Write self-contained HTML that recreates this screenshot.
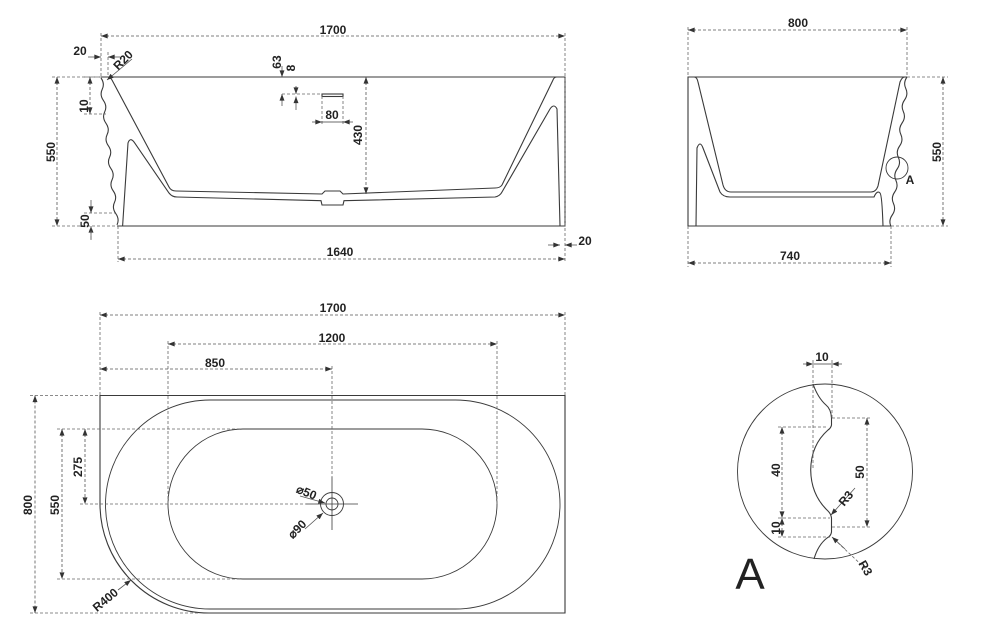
<!DOCTYPE html>
<html><head><meta charset="utf-8"><style>
html,body{margin:0;padding:0;background:#fff}
svg{display:block}
.s{fill:none;stroke:#3a3a3a;stroke-width:1.1}
.d{fill:none;stroke:#666;stroke-width:.8;stroke-dasharray:3 2}
.m{fill:none;stroke:#555;stroke-width:.8;stroke-dasharray:3 2;marker-start:url(#a);marker-end:url(#a)}
.e{fill:none;stroke:#555;stroke-width:.8;marker-end:url(#a)}
text{font-family:"Liberation Sans",sans-serif;font-weight:bold;font-size:12px;fill:#222;text-anchor:middle}
</style></head><body>
<svg width="1000" height="641" viewBox="0 0 1000 641" xmlns="http://www.w3.org/2000/svg">
<defs><marker id="a" viewBox="0 0 8 6" refX="8" refY="3" markerWidth="7" markerHeight="5" orient="auto-start-reverse" markerUnits="userSpaceOnUse"><path d="M0,0L8,3L0,6z" fill="#333"/></marker></defs>

<!-- FRONT VIEW -->
<path class="s" d="M101,77H565V226H117"/>
<path class="s" d="M101,78q4,5.65 1.23,11.3t1.23,11.3t1.23,11.3t1.23,11.3t1.23,11.3t1.23,11.3t1.23,11.3t1.23,11.3t1.23,11.3t1.23,11.3t1.23,11.3t1.23,11.3t1.23,11.3"/>
<path class="s" d="M108,77Q111,78 112,80L169,187Q171,191 176,191L322,194L325,191H340L343,194L495,188Q500,188 502,185L553,80Q554,77 557,77"/>
<path class="s" d="M122.6,226L128,143Q130,137 134,142L169,193Q172,197 177,197L321,200.7L322,205H343L344,200.7L495,197Q500,196 502,192L550,109Q554,103 557,109L560,226"/>
<rect x="322" y="94" width="21" height="2.5" class="s"/>
<path class="m" d="M101,36H565"/><text x="333" y="34">1700</text>
<path class="d" d="M101,33V77M565,33V262"/>
<path class="e" d="M88,57H101"/><path class="e" d="M120,57H108"/><path class="d" d="M108,52V77"/><text x="80" y="55">20</text>
<path class="e" d="M132,59L107,80"/><text x="126" y="63" transform="rotate(-45 126 63)">R20</text>
<path class="d" d="M84,77H101M84,114H106"/><path class="m" d="M90,77V114"/><text x="88" y="106" transform="rotate(-90 88 106)">10</text>
<path class="d" d="M52,77H101M52,226H117"/><path class="m" d="M57,77V226"/><text x="55" y="152" transform="rotate(-90 55 152)">550</text>
<path class="d" d="M84,213H115"/><path class="e" d="M91,200V213"/><path class="e" d="M91,240V226"/><path class="d" d="M91,226V240"/><text x="89" y="221" transform="rotate(-90 89 221)">50</text>
<path class="e" d="M282,66V77"/><path class="e" d="M282,106V94"/><path class="d" d="M282,94H322"/><text x="281" y="62" transform="rotate(-90 281 62)">63</text>
<path class="e" d="M296,86V94"/><path class="e" d="M296,110V96.5"/><text x="295" y="68" transform="rotate(-90 295 68)">8</text>
<path class="d" d="M322,96V125M343,96V125"/><path class="e" d="M312,122H322"/><path class="e" d="M353,122H343"/><path class="s" d="M322,122H343" style="stroke-width:.8"/><text x="332" y="119">80</text>
<path class="m" d="M366,77V194"/><text x="362" y="135" transform="rotate(-90 362 135)">430</text>
<path class="d" d="M118,226V262"/><path class="m" d="M118,259H565"/><text x="340" y="256">1640</text>
<path class="e" d="M548,245H560"/><path class="e" d="M577,245H565"/><text x="585" y="245">20</text>

<!-- SIDE VIEW -->
<path class="s" d="M891,226H688V77H907"/>
<path class="s" d="M907,77q-4,5.75 -1.23,11.5t-1.23,11.5t-1.23,11.5t-1.23,11.5t-1.23,11.5t-1.23,11.5t-1.23,11.5t-1.23,11.5t-1.23,11.5t-1.23,11.5t-1.23,11.5t-1.23,11.5t-1.23,11.5"/>
<path class="s" d="M694,77Q697,77 698,82L723,185Q725,192 731,192H871Q876,192 878,186L900,82Q902,77 905,77"/>
<path class="s" d="M696,226L697,148Q700,140 703,148L720,192Q723,197 730,197H874Q877,190 880,193Q882,195 883,226"/>
<circle cx="897" cy="168" r="11" class="s" style="stroke-width:.9"/><text x="910" y="184">A</text>
<path class="d" d="M688,27V77M907,27V77"/><path class="m" d="M688,30H907"/><text x="798" y="27">800</text>
<path class="d" d="M907,77H948M891,226H948"/><path class="m" d="M943,77V226"/><text x="941" y="152" transform="rotate(-90 941 152)">550</text>
<path class="d" d="M688,226V267M891,226V267"/><path class="m" d="M688,263H891"/><text x="790" y="260">740</text>

<!-- TOP VIEW -->
<path class="s" d="M100,395.5H565V613H209A109,109 0 0 1 100,504Z"/>
<rect x="105.5" y="400" width="454.5" height="209" rx="104.5" ry="104.5" class="s" style="stroke-width:.9"/>
<rect x="168" y="429" width="329" height="150" rx="75" ry="75" class="s" style="stroke-width:.9"/>
<circle cx="332" cy="504" r="11.5" class="s" style="stroke-width:.9"/><circle cx="332" cy="504" r="6" class="s" style="stroke-width:.9"/>
<path class="s" d="M306,504H358M332,477V530" style="stroke-width:.8"/>
<path class="d" d="M100,312V395M565,312V395"/><path class="m" d="M100,315H565"/><text x="333" y="312">1700</text>
<path class="d" d="M168,341V504M497,341V504"/><path class="m" d="M168,344H497"/><text x="332" y="342">1200</text>
<path class="d" d="M332,366V477"/><path class="m" d="M100,369H332"/><text x="215" y="367">850</text>
<path class="d" d="M80,504H320"/><path class="m" d="M85,429V504"/><text x="82" y="467" transform="rotate(-90 82 467)">275</text>
<path class="d" d="M57,429H240M57,579H240"/><path class="m" d="M62,429V579"/><text x="59" y="505" transform="rotate(-90 59 505)">550</text>
<path class="d" d="M30,395.5H100M30,613H200"/><path class="m" d="M35,395.5V613"/><text x="32" y="505" transform="rotate(-90 32 505)">800</text>
<path class="e" d="M300,496L325,503"/><text x="305" y="496" transform="rotate(22 305 496)">⌀50</text>
<path class="e" d="M305,529L323,513"/><text x="300" y="532" transform="rotate(-45 300 532)">⌀90</text>
<path class="e" d="M118,590L131,580"/><text x="108" y="603" transform="rotate(-40 108 603)">R400</text>

<!-- DETAIL A -->
<circle cx="825" cy="471.5" r="87.5" class="s" style="stroke-width:.9"/>
<path class="s" d="M813,384Q818,398 826,405Q831,409 831.5,418V425Q831,428 828,430Q811,445 810.7,470Q811,495 828,511Q831,514 831.5,518V532Q831,536 827,538Q818,545 814,559"/>
<path class="d" d="M813,360V470M832,360V418"/><path class="e" d="M803,364H813"/><path class="e" d="M842,364H832"/><path class="s" d="M813,364H832" style="stroke-width:.8"/><text x="822" y="361">10</text>
<path class="d" d="M778,427H828M778,518H830M778,537H830"/><path class="m" d="M782,427V518"/><path class="m" d="M782,518V537"/>
<text x="780" y="470" transform="rotate(-90 780 470)">40</text><text x="780" y="528" transform="rotate(-90 780 528)">10</text>
<path class="d" d="M832,418H871M832,527H871"/><path class="m" d="M867,418V527"/><text x="864" y="472" transform="rotate(-90 864 472)">50</text>
<path class="e" d="M855,488L831,515"/><text x="849" y="501" transform="rotate(-50 849 501)">R3</text>
<path class="d" d="M869,572L834,539"/><path class="e" d="M845,549L832,537"/><text x="862" y="570" transform="rotate(60 862 570)">R3</text>
<text x="750" y="589" style="font-weight:normal;font-size:44px">A</text>
</svg>
</body></html>
